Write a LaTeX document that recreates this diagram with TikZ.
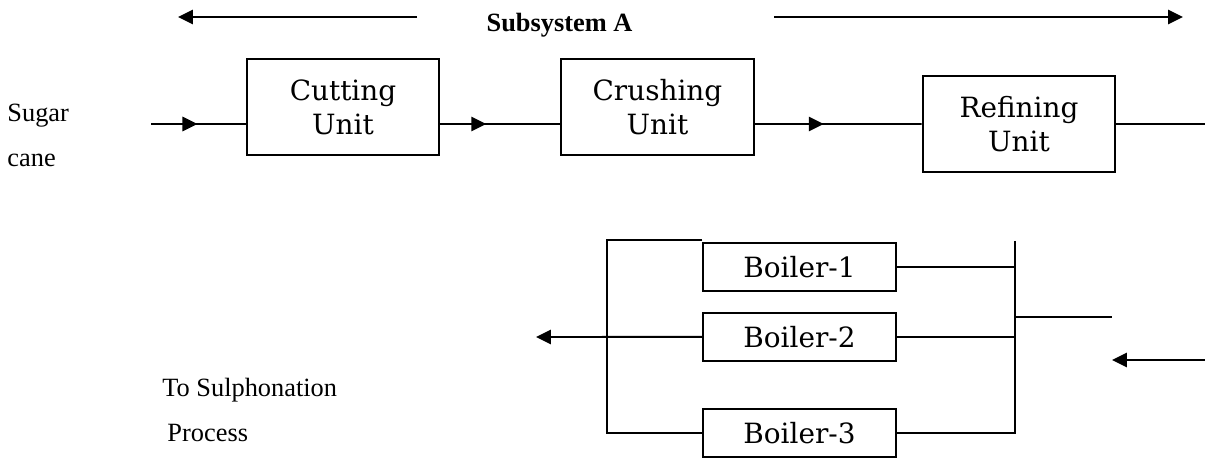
\documentclass[tikz,border=0pt]{standalone}
\usepackage{fontspec}
\setmainfont{Liberation Serif}
\newfontfamily\unitfont{DejaVu Serif}
\usepackage{tikz}
\usetikzlibrary{arrows.meta, positioning, decorations.markings}
\tikzset{
  unit/.style    ={draw, line width=0.9pt, minimum width=3.08cm, minimum height=1.536cm,
                   inner sep=0pt, align=center,
                   font=\unitfont\fontsize{12.7}{15.5}\selectfont},
  boiler/.style  ={unit, minimum height=0.768cm},
  wire/.style    ={line width=0.9pt},
  wirelt/.style  ={line width=0.7pt},
  flow/.style    ={wire, -{Triangle[length=6.8pt,width=6.5pt]}},
  midflow/.style ={wire, postaction={decorate}, decoration={markings,
                   mark=at position #1 with {\arrow{Triangle[length=6.8pt,width=6.5pt]}}}},
  note/.style    ={font=\fontsize{12}{20.5}\selectfont, align=left, inner sep=0pt}
}

\begin{document}
\begin{tikzpicture}
  \useasboundingbox (0,0) rectangle (19.28,-7.328);

  \node[note, anchor=base] (sub) at (8.952,-0.512) {\textbf{Subsystem A}};
  \coordinate (la) at (6.672,-0.272);
  \coordinate (lb) at (2.848,-0.272);
  \coordinate (ra) at (12.384,-0.272);
  \coordinate (rb) at (18.928,-0.272);
  \draw[flow] (la) -- (lb);
  \draw[flow] (ra) -- (rb);

  \node[note, anchor=base west] (cane) at (0.112,-2.672) {Sugar\\cane};
  \node[unit] (cut) at (5.488,-1.712) {Cutting\\Unit};
  \node[unit, right=1.92cm of cut] (crush) {Crushing\\Unit};
  \node[unit, right=2.672cm of crush, yshift=-0.272cm] (refine) {Refining\\Unit};

  \coordinate (feed) at (2.416,-1.984);
  \coordinate (out) at (19.28,-1.984);
  \draw[midflow=0.49] (feed) -- (feed -| cut.west);
  \draw[midflow=0.383] (feed -| cut.east) -- (feed -| crush.west);
  \draw[midflow=0.413] (feed -| crush.east) -- (refine.west);
  \draw[wire] (refine.east) -- (out);

  \node[boiler] (b1) at (12.792,-4.272) {Boiler-1};
  \node[boiler, below=0.32cm of b1] (b2) {Boiler-2};
  \node[boiler, below=0.736cm of b2] (b3) {Boiler-3};

  \coordinate (lbus) at (9.712,-5.392);
  \coordinate (sulph) at (8.576,-5.392);
  \draw[wire] ([yshift=0.032cm]b1.north west) -| (lbus) |- (b3.west);
  \draw[flow] (b2.west) -- (sulph);
  \node[note, anchor=base west] (toproc) at (2.592,-7.072)
       {To Sulphonation\\\hspace*{2.3pt}Process};

  \coordinate (rbus) at (16.24,-3.856);
  \draw[wire] (rbus) |- (b3.east);
  \draw[wirelt] (b1.east) -- (b1.east -| rbus);
  \draw[wire] (b2.east) -- (b2.east -| rbus);
  \coordinate (branch) at (17.792,-5.072);
  \draw[wirelt] (branch -| rbus) -- (branch);
  \coordinate (inlet) at (19.28,-5.76);
  \coordinate (inletend) at (17.792,-5.76);
  \draw[flow] (inlet) -- (inletend);
\end{tikzpicture}
\end{document}
